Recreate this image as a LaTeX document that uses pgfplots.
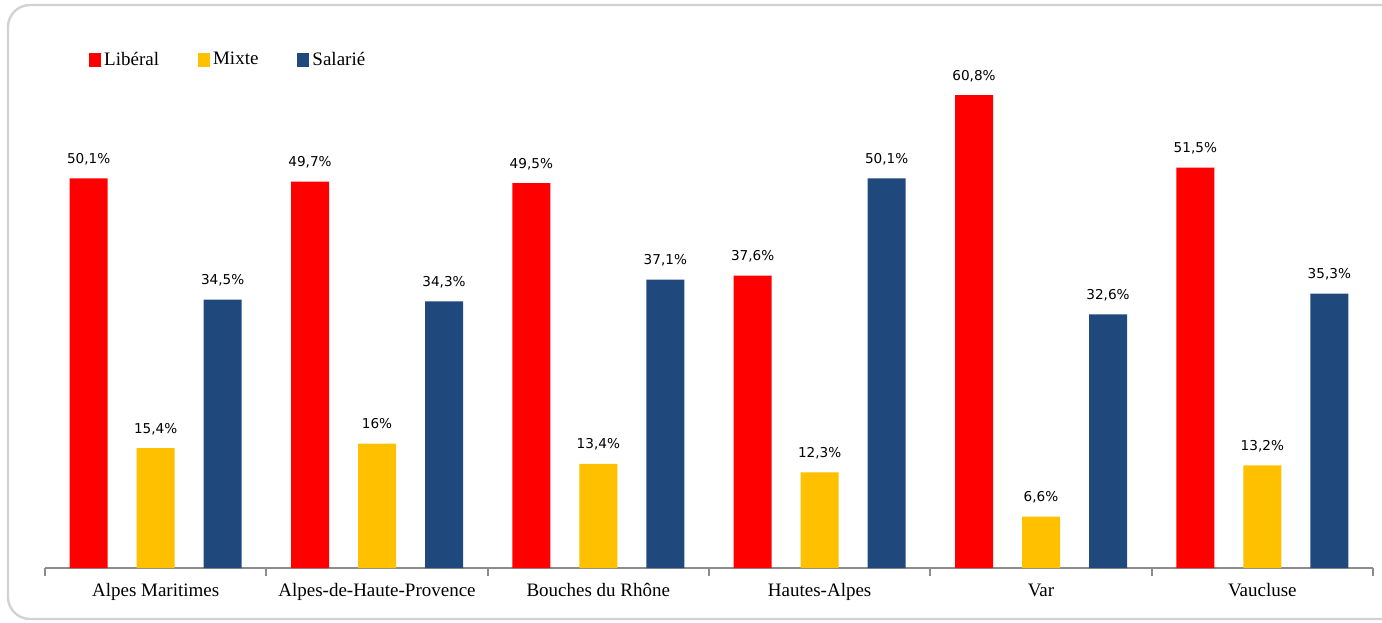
\documentclass[border=0pt]{standalone}
\usepackage{pgfplots}
\pgfplotsset{compat=1.18}
\usepackage{fontspec}
\setmainfont{Liberation Serif}
\newfontfamily\dejavu{DejaVu Sans}
\definecolor{cLib}{HTML}{FF0000}
\definecolor{cMix}{HTML}{FFC000}
\definecolor{cSal}{HTML}{1F497D}
\definecolor{axgray}{HTML}{8C8C8C}
\begin{document}
\begin{tikzpicture}
\useasboundingbox (0,0) rectangle (691pt,311pt);
\begin{scope}
\clip (0,0) rectangle (691pt,311pt);
\draw[line width=1.2pt, gray!35, rounded corners=11pt] (4pt,1.5pt) rectangle (720pt,308.5pt);
\end{scope}
\begin{axis}[
  at={(22.5pt,27pt)}, anchor=south west,
  scale only axis, width=664pt, height=264pt,
  xmin=-0.5, xmax=5.5, ymin=0, ymax=67.9,
  axis x line*=bottom, axis y line=none,
  x axis line style={axgray, line width=1.2pt},
  ybar, bar width=19pt,
  xtick={0,...,5},
  xticklabels={Alpes Maritimes, Alpes-de-Haute-Provence, Bouches du Rhône, Hautes-Alpes, Var, Vaucluse},
  major tick length=0pt,
  minor xtick={-0.5,0.5,...,5.5},
  minor tick length=4pt,
  tick align=outside,
  minor tick style={axgray, line width=1pt},
  xticklabel style={font=\fontsize{9.5}{11}\selectfont, anchor=base, yshift=-14pt},
  nodes near coords={\pgfmathprintnumber[use comma,fixed,precision=1]{\pgfplotspointmeta}\%},
  /pgf/number format/assume math mode=true,
  every node near coord/.append style={font=\dejavu\fontsize{6.8}{8}\selectfont, anchor=base, inner sep=0pt, yshift=7.5pt, black},
  legend columns=3,
  legend style={draw=none, fill=none, at={(0.033,0.962)}, anchor=west, inner sep=0pt,
    font=\fontsize{9.5}{11}\selectfont,
    nodes={inner sep=1.5pt},
    /tikz/every even column/.append style={column sep=18pt}},
  legend image code/.code={\fill[#1] (0pt,-3.5pt) rectangle (6pt,3.5pt);},
]
\addplot[fill=cLib, draw=none, bar shift=-33.5pt] coordinates {(0,50.1) (1,49.7) (2,49.5) (3,37.6) (4,60.8) (5,51.5)};
\addplot[fill=cMix, draw=none, bar shift=0pt] coordinates {(0,15.4) (1,16) (2,13.4) (3,12.3) (4,6.6) (5,13.2)};
\addplot[fill=cSal, draw=none, bar shift=33.5pt] coordinates {(0,34.5) (1,34.3) (2,37.1) (3,50.1) (4,32.6) (5,35.3)};
\legend{Libéral, Mixte, Salarié}
\end{axis}
\end{tikzpicture}
\end{document}
